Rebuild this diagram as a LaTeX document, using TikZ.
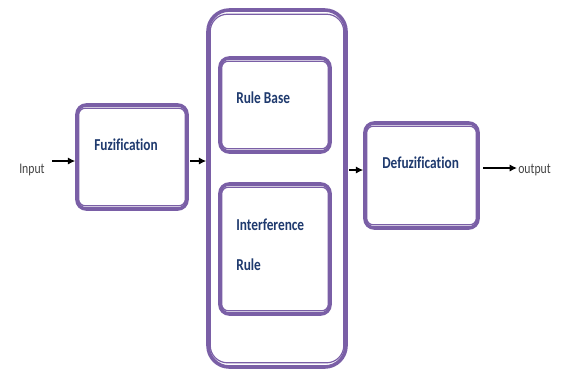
\documentclass[tikz,border=0pt]{standalone}
\usepackage{fontspec}
\setmainfont{Carlito}
\newfontfamily\boxfont[FakeStretch=0.8,Ligatures=NoCommon]{Carlito}
\usetikzlibrary{fit,calc,arrows.meta}
\definecolor{pur}{HTML}{7A5FA6}
\definecolor{navy}{HTML}{1F3A6E}
\definecolor{lbl}{HTML}{444444}
\tikzset{
  box/.style={draw=pur, line width=2.7pt, rounded corners=7pt, fill=white, inner sep=0pt},
  inframe/.style={draw=pur, line width=0.9pt, rounded corners=5pt},
  boxtext/.style={text=navy, font=\boxfont\bfseries\fontsize{12.5}{14}\selectfont, anchor=base west, inner sep=0pt},
  lbltext/.style={text=lbl, font=\boxfont\fontsize{11}{13}\selectfont, inner sep=0pt},
  arr/.style={-{Latex[length=5.5pt,width=5.5pt]}, line width=1.1pt, black}
}
\begin{document}
\begin{tikzpicture}[x=0.75pt,y=-0.75pt]
\useasboundingbox (0,0) rectangle (566,369);
% boxes
\node[box, fit={(77,105) (187,209)}] (fuz) {};
\node[box, rounded corners=16pt, fit={(208,10) (346,367)}] (mid) {};
\node[box, fit={(220,58) (330,152)}] (rb) {};
\node[box, fit={(220,184) (330,314)}] (ir) {};
\node[box, fit={(365,123) (478,228)}] (defz) {};
% inner frames
\foreach \b in {fuz,rb,ir,defz}{
  \draw[inframe] ($(\b.north west)+(3.5,5)$) rectangle ($(\b.south east)+(-3.5,-5)$);
}
\draw[inframe, rounded corners=13pt] ($(mid.north west)+(4,6)$) rectangle ($(mid.south east)+(-4,-6)$);
% texts
\node[boxtext] (tfuz) at (94,150) {Fuzification};
\node[boxtext] (trb) at (236,103) {Rule Base};
\node[boxtext] (tir1) at (236,230) {Interference};
\node[boxtext] (tir2) at (236,270) {Rule};
\node[boxtext] (tdef) at (382,168) {Defuzification};
\node[lbltext, anchor=base west] (in) at (19,173) {Input};
\node[lbltext, anchor=base west] (out) at (518,173) {output};
% connectors
\coordinate (inA) at (52,161);
\draw[arr] (inA) -- (fuz.west |- inA);
\coordinate (m1) at (190,161);
\draw[arr] (m1) -- (mid.west |- m1);
\coordinate (m2) at (349,170);
\draw[arr] (m2) -- (defz.west |- m2);
\coordinate (o1) at (483,168);
\coordinate (o2) at (517,168);
\draw[arr] (o1) -- (o2);
\end{tikzpicture}
\end{document}
